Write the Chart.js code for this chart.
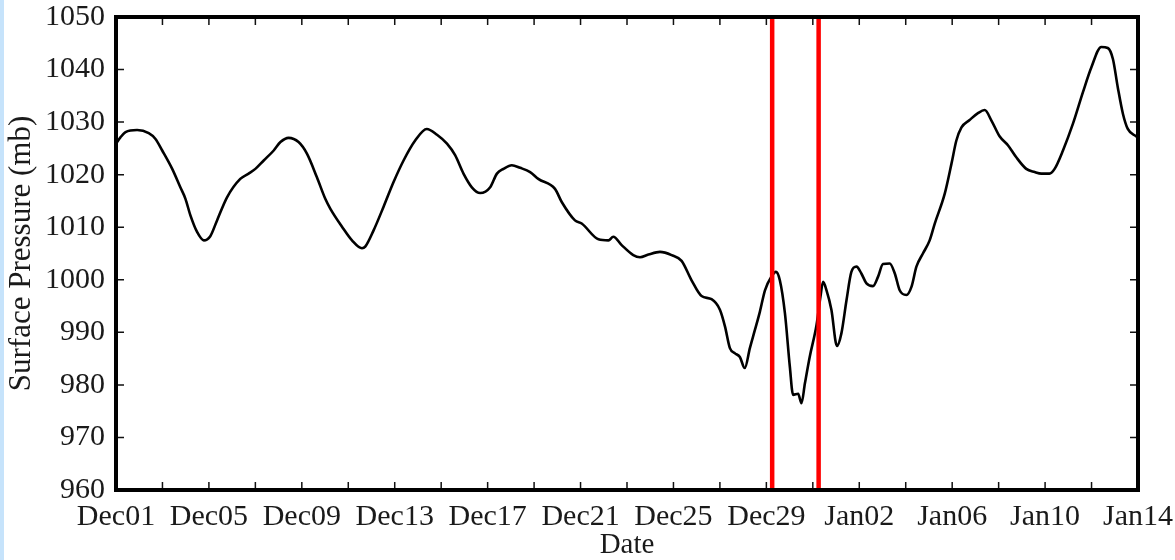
<!DOCTYPE html>
<html>
<head>
<meta charset="utf-8">
<script src="https://cdn.jsdelivr.net/npm/chart.js@4/dist/chart.umd.min.js"></script>
<style>
  html, body { margin: 0; padding: 0; background: #ffffff; }
  #strip { position: absolute; left: 0; top: 0; width: 4px; height: 560px; background: #c6e3fb; }
  #c { position: absolute; left: 0; top: 0; }
</style>
</head>
<body>
<div id="strip"></div>
<canvas id="c" width="1175" height="560"></canvas>
<script>
// Days since Dec01 00Z
const days = [
  0.00, 0.19, 0.41, 0.91, 1.41, 1.70, 1.99, 2.42, 2.77, 2.99,
  3.20, 3.49, 3.78, 4.06, 4.35, 4.78, 5.35, 5.71, 6.00, 6.36,
  6.79, 7.08, 7.43, 7.86, 8.22, 8.65, 9.01, 9.23, 9.73, 10.16,
  10.59, 10.73, 11.09, 11.52, 11.95, 12.38, 12.88, 13.38, 13.82, 14.25,
  14.60, 14.96, 15.32, 15.68, 16.11, 16.40, 16.68, 17.04, 17.40, 17.83,
  18.18, 18.90, 19.19, 19.76, 20.05, 20.77, 21.20, 21.41, 21.77, 22.27,
  22.56, 22.92, 23.42, 23.92, 24.35, 24.78, 25.21, 25.64, 26.00, 26.22,
  26.43, 26.65, 26.86, 27.07, 27.29, 27.51, 27.72, 27.94, 28.22, 28.41,
  28.58, 28.80, 29.01, 29.15, 29.37, 29.51, 29.66, 29.87, 30.16, 30.33,
  30.44, 30.59, 30.80, 31.04, 31.23, 31.45, 31.66, 31.88, 32.09, 32.31,
  32.59, 32.81, 33.02, 33.31, 33.53, 33.74, 34.03, 34.25, 34.46, 34.74,
  35.03, 35.25, 35.68, 35.97, 36.18, 36.40, 36.75, 37.11, 37.40, 37.69,
  38.04, 38.40, 38.76, 39.19, 39.55, 39.84, 40.19, 40.41, 40.77, 41.20,
  41.63, 41.99, 42.42, 42.70, 42.92, 43.13, 43.35, 43.56, 43.92, 44.00
];
// Surface pressure (mb)
const pressure = [
  1025.9, 1027.1, 1028.1, 1028.5, 1027.9, 1026.8, 1024.6, 1021.1, 1017.6, 1015.4,
  1012.3, 1009.1, 1007.5, 1008.3, 1011.3, 1015.7, 1019.2, 1020.2, 1021.1, 1022.7,
  1024.6, 1026.2, 1027.0, 1026.2, 1024.0, 1019.5, 1015.4, 1013.5, 1010.1, 1007.5,
  1006.0, 1006.3, 1009.4, 1013.9, 1018.6, 1022.7, 1026.5, 1028.7, 1027.6, 1025.9,
  1023.7, 1020.2, 1017.6, 1016.5, 1017.6, 1020.2, 1021.1, 1021.8, 1021.3, 1020.5,
  1019.2, 1017.3, 1014.8, 1011.3, 1010.7, 1007.7, 1007.5, 1008.2, 1006.6, 1004.7,
  1004.3, 1004.8, 1005.3, 1004.7, 1003.6, 999.9, 996.9, 996.3, 994.3, 991.1,
  987.0, 986.0, 985.3, 983.2, 987.0, 990.5, 993.9, 998.0, 1000.6, 1001.5,
  999.9, 993.6, 983.5, 978.1, 978.3, 976.5, 980.3, 985.4, 991.4, 996.8,
  999.6, 998.0, 994.3, 987.4, 989.8, 996.1, 1001.5, 1002.5, 1001.2, 999.3,
  998.8, 1000.6, 1003.0, 1003.1, 1001.2, 998.0, 997.1, 998.7, 1002.5, 1005.0,
  1007.5, 1010.7, 1016.4, 1022.1, 1026.5, 1029.0, 1030.4, 1031.7, 1032.3, 1030.3,
  1027.3, 1025.6, 1023.3, 1021.1, 1020.5, 1020.2, 1020.2, 1021.1, 1024.6, 1029.7,
  1035.7, 1040.4, 1044.3, 1044.1, 1042.0, 1036.6, 1031.6, 1028.7, 1027.3, 1027.0
];
// Vertical event markers (days since Dec01 00Z)
const eventTimes = [28.25, 30.25];
// Tick labels (every 4 days)
const tickLabels = ['Dec01','Dec05','Dec09','Dec13','Dec17','Dec21','Dec25','Dec29','Jan02','Jan06','Jan10','Jan14'];
const yRange = [960, 1050];
const xRange = [0, 44];

const FONT = "'Liberation Serif', 'Times New Roman', serif";
const TXT = '#1a1a1a';

const series = days.map((d, i) => ({ x: d, y: pressure[i] }));
const markerSets = eventTimes.map(t => ({
  data: [{ x: t, y: yRange[0] }, { x: t, y: yRange[1] }],
  borderColor: '#ff0000',
  borderWidth: 4.5,
  pointRadius: 0,
  fill: false,
  order: 0
}));

const framePlugin = {
  id: 'frame',
  afterDatasetsDraw(chart) {
    const { ctx, chartArea: a, scales: { x, y } } = chart;
    ctx.save();
    ctx.strokeStyle = '#111';
    ctx.lineWidth = 1.5;
    const L = 8;
    ctx.beginPath();
    x.ticks.forEach(t => {
      const px = x.getPixelForValue(t.value);
      ctx.moveTo(px, a.bottom); ctx.lineTo(px, a.bottom - L);
      ctx.moveTo(px, a.top); ctx.lineTo(px, a.top + L);
    });
    y.ticks.forEach(t => {
      const py = y.getPixelForValue(t.value);
      ctx.moveTo(a.left, py); ctx.lineTo(a.left + L, py);
      ctx.moveTo(a.right, py); ctx.lineTo(a.right - L, py);
    });
    ctx.stroke();
    ctx.strokeStyle = '#000';
    ctx.lineWidth = 4;
    ctx.strokeRect(a.left, a.top, a.right - a.left, a.bottom - a.top);
    ctx.restore();
  }
};

new Chart(document.getElementById('c'), {
  type: 'line',
  data: {
    datasets: [
      ...markerSets,
      {
        data: series,
        borderColor: '#000000',
        borderWidth: 2.6,
        pointRadius: 0,
        fill: false,
        cubicInterpolationMode: 'monotone',
        order: 1
      }
    ]
  },
  options: {
    responsive: false,
    devicePixelRatio: 1,
    animation: false,
    layout: { padding: { top: 17, right: 37, bottom: 0, left: 0 } },
    plugins: { legend: { display: false }, tooltip: { enabled: false } },
    scales: {
      x: {
        type: 'linear',
        min: xRange[0],
        max: xRange[1],
        grid: { display: false },
        border: { display: false },
        ticks: {
          stepSize: 2,
          autoSkip: false,
          maxRotation: 0,
          padding: 1,
          color: TXT,
          font: { family: FONT, size: 30 },
          callback: v => (v % 4 === 0 ? tickLabels[v / 4] : '')
        },
        title: {
          display: true,
          text: 'Date',
          color: TXT,
          font: { family: FONT, size: 29, lineHeight: 1 },
          padding: { top: 0, bottom: 0 }
        },
        afterFit: s => { s.height = 70; s.paddingLeft = 0; s.paddingRight = 0; }
      },
      y: {
        type: 'linear',
        min: yRange[0],
        max: yRange[1],
        grid: { display: false },
        border: { display: false },
        ticks: {
          stepSize: 10,
          padding: 3,
          color: TXT,
          font: { family: FONT, size: 30 },
          callback: v => String(v)
        },
        title: {
          display: true,
          text: 'Surface Pressure (mb)',
          color: TXT,
          font: { family: FONT, size: 31, lineHeight: 1 },
          padding: { top: 6, bottom: 0 }
        },
        afterFit: s => { s.width = 116; s.paddingTop = 0; s.paddingBottom = 0; }
      }
    }
  },
  plugins: [framePlugin]
});
</script>
</body>
</html>
